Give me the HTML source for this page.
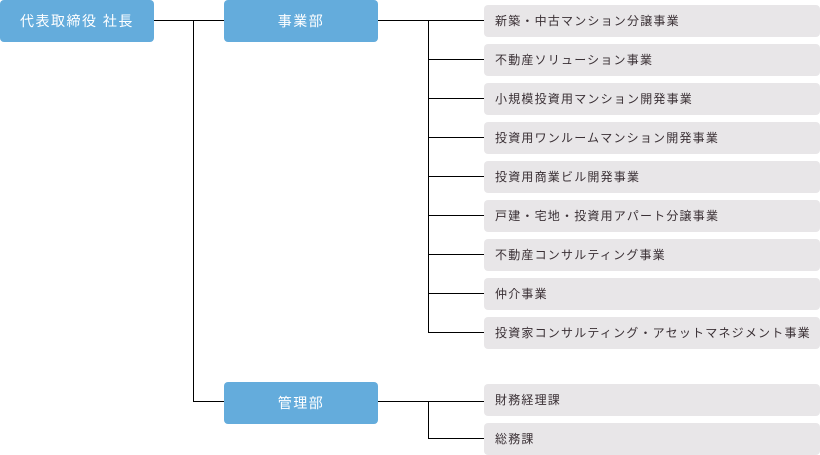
<!DOCTYPE html>
<html><head><meta charset="utf-8"><style>
body{margin:0;width:820px;height:455px;background:#fff;position:relative;overflow:hidden;font-family:"Liberation Sans","Noto Sans CJK JP",sans-serif}
.b{position:absolute;background:#64acdc;color:#fff;border-radius:4px;height:42px;line-height:42px;text-align:center;font-size:14px;letter-spacing:1.5px}
.i{position:absolute;left:484px;width:336px;height:32px;line-height:32px;background:#e8e6e8;border-radius:4px;font-size:12px;color:#3a3035;padding-left:11px;box-sizing:border-box;letter-spacing:1.2px;white-space:nowrap}
.h,.v{position:absolute;background:#000}
.h{height:1px}.v{width:1px}
</style></head><body>
<div class="b" style="left:0;top:0;width:154px">代表取締役 社長</div>
<div class="b" style="left:224px;top:0;width:154px">事業部</div>
<div class="b" style="left:224px;top:382px;width:154px">管理部</div>
<div class="h" style="left:154px;top:20px;width:70px"></div>
<div class="v" style="left:193px;top:20px;height:382px"></div>
<div class="h" style="left:193px;top:401px;width:31px"></div>
<div class="h" style="left:378px;top:20px;width:106px"></div>
<div class="v" style="left:428px;top:20px;height:313px"></div>
<div class="h" style="left:428px;top:59px;width:56px"></div>
<div class="h" style="left:428px;top:98px;width:56px"></div>
<div class="h" style="left:428px;top:137px;width:56px"></div>
<div class="h" style="left:428px;top:176px;width:56px"></div>
<div class="h" style="left:428px;top:215px;width:56px"></div>
<div class="h" style="left:428px;top:254px;width:56px"></div>
<div class="h" style="left:428px;top:293px;width:56px"></div>
<div class="h" style="left:428px;top:332px;width:56px"></div>
<div class="h" style="left:378px;top:401px;width:106px"></div>
<div class="v" style="left:428px;top:401px;height:38px"></div>
<div class="h" style="left:428px;top:438px;width:56px"></div>
<div class="i" style="top:5px">新築・中古マンション分譲事業</div>
<div class="i" style="top:44px">不動産ソリューション事業</div>
<div class="i" style="top:83px">小規模投資用マンション開発事業</div>
<div class="i" style="top:122px">投資用ワンルームマンション開発事業</div>
<div class="i" style="top:161px">投資用商業ビル開発事業</div>
<div class="i" style="top:200px">戸建・宅地・投資用アパート分譲事業</div>
<div class="i" style="top:239px">不動産コンサルティング事業</div>
<div class="i" style="top:278px">仲介事業</div>
<div class="i" style="top:317px">投資家コンサルティング・アセットマネジメント事業</div>
<div class="i" style="top:384px">財務経理課</div>
<div class="i" style="top:423px">総務課</div>
</body></html>
